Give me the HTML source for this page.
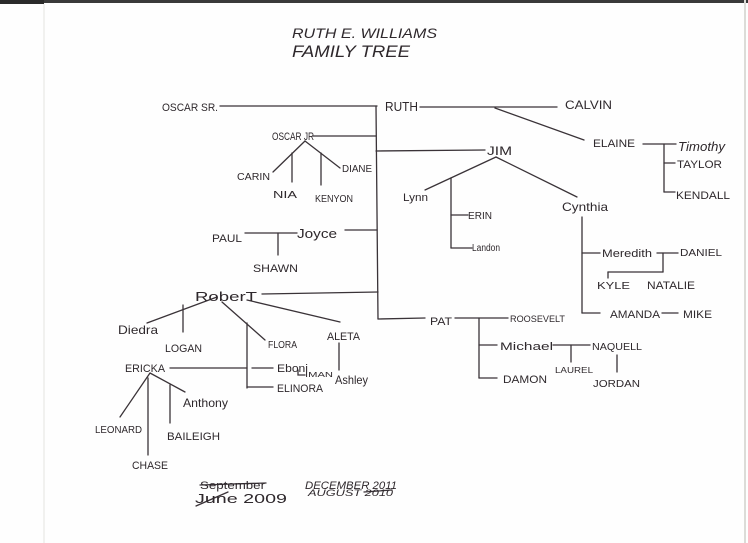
<!DOCTYPE html>
<html>
<head>
<meta charset="utf-8">
<style>
  html,body{margin:0;padding:0;background:#fff;}
  body{width:748px;height:543px;overflow:hidden;}
  svg{display:block;}
  text{font-family:"Liberation Sans",sans-serif;fill:#2e282c;}
  .i{font-style:italic;}
</style>
</head>
<body>
<svg width="748" height="543" viewBox="0 0 748 543" xmlns="http://www.w3.org/2000/svg">
  <rect x="0" y="0" width="748" height="543" fill="#fefefe"/>
  <!-- scan edges -->
  <rect x="0" y="0" width="748" height="3" fill="#3a3a3a"/>
  <rect x="0" y="0" width="44" height="4" fill="#2a2a2a"/>
  <line x1="44" y1="4" x2="44" y2="543" stroke="#e4e4e0" stroke-width="1"/>
  <line x1="745" y1="0" x2="745" y2="543" stroke="#dcdcd8" stroke-width="2"/>

  <!-- title -->
  <text class="i" x="292" y="38" font-size="14" textLength="145" lengthAdjust="spacingAndGlyphs">RUTH E. WILLIAMS</text>
  <text class="i" x="292" y="57" font-size="17" textLength="118" lengthAdjust="spacingAndGlyphs">FAMILY TREE</text>

  <g stroke="#3a3338" stroke-width="1.3" fill="none" stroke-linecap="round">
    <!-- top generation -->
    <line x1="220" y1="106" x2="377" y2="106"/>
    <line x1="376" y1="106" x2="378" y2="319"/>
    <line x1="420" y1="107" x2="557" y2="107"/>
    <line x1="495" y1="108" x2="584" y2="140"/>
    <!-- Elaine -->
    <line x1="643" y1="144" x2="676" y2="144"/>
    <line x1="664" y1="144" x2="664" y2="192"/>
    <line x1="664" y1="163" x2="675" y2="163"/>
    <line x1="664" y1="192" x2="675" y2="192"/>
    <!-- Oscar Jr -->
    <line x1="313" y1="136" x2="376" y2="136"/>
    <line x1="305" y1="141" x2="273" y2="172"/>
    <line x1="305" y1="141" x2="340" y2="168"/>
    <line x1="292" y1="153" x2="292" y2="182"/>
    <line x1="321" y1="153" x2="321" y2="185"/>
    <!-- Jim -->
    <line x1="376" y1="151" x2="485" y2="150"/>
    <line x1="496" y1="157" x2="425" y2="190"/>
    <line x1="496" y1="157" x2="577" y2="197"/>
    <line x1="451" y1="178" x2="451" y2="248"/>
    <line x1="451" y1="215" x2="468" y2="215"/>
    <line x1="451" y1="248" x2="472" y2="248"/>
    <!-- Cynthia -->
    <line x1="582" y1="217" x2="582" y2="313"/>
    <line x1="582" y1="253" x2="600" y2="253"/>
    <line x1="582" y1="313" x2="600" y2="313"/>
    <line x1="657" y1="253" x2="678" y2="253"/>
    <line x1="663" y1="253" x2="663" y2="272"/>
    <line x1="608" y1="272" x2="663" y2="272"/>
    <line x1="608" y1="272" x2="608" y2="278"/>
    <line x1="662" y1="313" x2="678" y2="313"/>
    <!-- Pat -->
    <line x1="378" y1="319" x2="425" y2="318"/>
    <line x1="455" y1="318" x2="508" y2="318"/>
    <line x1="479" y1="318" x2="479" y2="378"/>
    <line x1="479" y1="345" x2="497" y2="345"/>
    <line x1="479" y1="378" x2="497" y2="378"/>
    <line x1="553" y1="345" x2="590" y2="345"/>
    <line x1="571" y1="345" x2="571" y2="362"/>
    <line x1="617" y1="355" x2="617" y2="372"/>
    <!-- Joyce -->
    <line x1="345" y1="230" x2="377" y2="230"/>
    <line x1="245" y1="233" x2="297" y2="233"/>
    <line x1="278" y1="233" x2="278" y2="255"/>
    <!-- Robert -->
    <line x1="262" y1="294" x2="378" y2="292"/>
    <line x1="217" y1="297" x2="147" y2="323"/>
    <line x1="183" y1="305" x2="183" y2="332"/>
    <line x1="222" y1="302" x2="265" y2="340"/>
    <line x1="247" y1="300" x2="340" y2="322"/>
    <line x1="247" y1="323" x2="247" y2="388"/>
    <line x1="252" y1="368" x2="273" y2="368"/>
    <line x1="247" y1="387" x2="273" y2="387"/>
    <line x1="170" y1="368" x2="247" y2="368"/>
    <polyline points="298,370 298,375 305,375"/>
    <line x1="339" y1="343" x2="339" y2="370"/>
    <!-- Ericka -->
    <line x1="150" y1="373" x2="120" y2="417"/>
    <line x1="148" y1="378" x2="148" y2="455"/>
    <line x1="150" y1="373" x2="185" y2="392"/>
    <line x1="170" y1="385" x2="170" y2="423"/>
    <!-- date strikes -->
    <line x1="200" y1="485" x2="266" y2="483"/>
    <line x1="196" y1="506" x2="228" y2="492"/>
    <line x1="364" y1="492" x2="392" y2="490"/>
  </g>

  <!-- names -->
  <text x="162" y="111" font-size="11" textLength="56" lengthAdjust="spacingAndGlyphs">OSCAR SR.</text>
  <text x="385" y="111" font-size="13" textLength="33" lengthAdjust="spacingAndGlyphs">RUTH</text>
  <text x="565" y="109" font-size="12" textLength="47" lengthAdjust="spacingAndGlyphs">CALVIN</text>
  <text x="593" y="147" font-size="11" textLength="42" lengthAdjust="spacingAndGlyphs">ELAINE</text>
  <text class="i" x="678" y="151" font-size="13" textLength="47" lengthAdjust="spacingAndGlyphs">Timothy</text>
  <text x="677" y="168" font-size="11" textLength="45" lengthAdjust="spacingAndGlyphs">TAYLOR</text>
  <text x="676" y="199" font-size="11" textLength="54" lengthAdjust="spacingAndGlyphs">KENDALL</text>

  <text x="272" y="140" font-size="11" textLength="42" lengthAdjust="spacingAndGlyphs">OSCAR JR</text>
  <text x="237" y="180" font-size="10" textLength="33" lengthAdjust="spacingAndGlyphs">CARIN</text>
  <text x="273" y="198" font-size="10" textLength="24" lengthAdjust="spacingAndGlyphs">NIA</text>
  <text x="315" y="202" font-size="10" textLength="38" lengthAdjust="spacingAndGlyphs">KENYON</text>
  <text x="342" y="172" font-size="10" textLength="30" lengthAdjust="spacingAndGlyphs">DIANE</text>

  <text x="487" y="155" font-size="12" textLength="25" lengthAdjust="spacingAndGlyphs">JIM</text>
  <text x="403" y="201" font-size="11" textLength="25" lengthAdjust="spacingAndGlyphs">Lynn</text>
  <text x="468" y="219" font-size="10" textLength="24" lengthAdjust="spacingAndGlyphs">ERIN</text>
  <text x="472" y="251" font-size="10" textLength="28" lengthAdjust="spacingAndGlyphs">Landon</text>
  <text x="562" y="211" font-size="12" textLength="46" lengthAdjust="spacingAndGlyphs">Cynthia</text>
  <text x="602" y="257" font-size="11" textLength="50" lengthAdjust="spacingAndGlyphs">Meredith</text>
  <text x="680" y="256" font-size="10" textLength="42" lengthAdjust="spacingAndGlyphs">DANIEL</text>
  <text x="597" y="289" font-size="10" textLength="33" lengthAdjust="spacingAndGlyphs">KYLE</text>
  <text x="647" y="289" font-size="11" textLength="48" lengthAdjust="spacingAndGlyphs">NATALIE</text>
  <text x="610" y="318" font-size="11" textLength="50" lengthAdjust="spacingAndGlyphs">AMANDA</text>
  <text x="683" y="318" font-size="11" textLength="29" lengthAdjust="spacingAndGlyphs">MIKE</text>

  <text x="212" y="242" font-size="11" textLength="30" lengthAdjust="spacingAndGlyphs">PAUL</text>
  <text x="253" y="272" font-size="11" textLength="45" lengthAdjust="spacingAndGlyphs">SHAWN</text>
  <text x="297" y="238" font-size="13" textLength="40" lengthAdjust="spacingAndGlyphs">Joyce</text>

  <text x="195" y="301" font-size="13" textLength="62" lengthAdjust="spacingAndGlyphs">RoberT</text>
  <text x="118" y="334" font-size="12" textLength="40" lengthAdjust="spacingAndGlyphs">Diedra</text>
  <text x="165" y="352" font-size="11" textLength="37" lengthAdjust="spacingAndGlyphs">LOGAN</text>
  <text x="268" y="348" font-size="10" textLength="29" lengthAdjust="spacingAndGlyphs">FLORA</text>
  <text x="327" y="340" font-size="11" textLength="33" lengthAdjust="spacingAndGlyphs">ALETA</text>
  <text x="125" y="372" font-size="11" textLength="40" lengthAdjust="spacingAndGlyphs">ERICKA</text>
  <text x="277" y="372" font-size="11" textLength="31" lengthAdjust="spacingAndGlyphs">Eboni</text>
  <text x="277" y="392" font-size="11" textLength="46" lengthAdjust="spacingAndGlyphs">ELINORA</text>
  <text x="305" y="377" font-size="7" textLength="28" lengthAdjust="spacingAndGlyphs">IMAN</text>
  <text x="335" y="384" font-size="12" textLength="33" lengthAdjust="spacingAndGlyphs">Ashley</text>
  <text x="95" y="433" font-size="10" textLength="47" lengthAdjust="spacingAndGlyphs">LEONARD</text>
  <text x="132" y="469" font-size="11" textLength="36" lengthAdjust="spacingAndGlyphs">CHASE</text>
  <text x="167" y="440" font-size="11" textLength="53" lengthAdjust="spacingAndGlyphs">BAILEIGH</text>
  <text x="183" y="407" font-size="12" textLength="45" lengthAdjust="spacingAndGlyphs">Anthony</text>

  <text x="430" y="325" font-size="11" textLength="22" lengthAdjust="spacingAndGlyphs">PAT</text>
  <text x="510" y="322" font-size="9" textLength="55" lengthAdjust="spacingAndGlyphs">ROOSEVELT</text>
  <text x="500" y="350" font-size="11" textLength="53" lengthAdjust="spacingAndGlyphs">Michael</text>
  <text x="592" y="350" font-size="10" textLength="50" lengthAdjust="spacingAndGlyphs">NAQUELL</text>
  <text x="555" y="373" font-size="8" textLength="38" lengthAdjust="spacingAndGlyphs">LAUREL</text>
  <text x="593" y="387" font-size="10" textLength="47" lengthAdjust="spacingAndGlyphs">JORDAN</text>
  <text x="503" y="383" font-size="11" textLength="44" lengthAdjust="spacingAndGlyphs">DAMON</text>

  <!-- dates -->
  <text x="200" y="489" font-size="11" textLength="65" lengthAdjust="spacingAndGlyphs">September</text>
  <text x="195" y="503" font-size="13" textLength="92" lengthAdjust="spacingAndGlyphs">June 2009</text>
  <text class="i" x="305" y="489" font-size="11" textLength="92" lengthAdjust="spacingAndGlyphs">DECEMBER 2011</text>
  <text class="i" x="308" y="496" font-size="9" textLength="85" lengthAdjust="spacingAndGlyphs">AUGUST 2010</text>
</svg>
</body>
</html>
